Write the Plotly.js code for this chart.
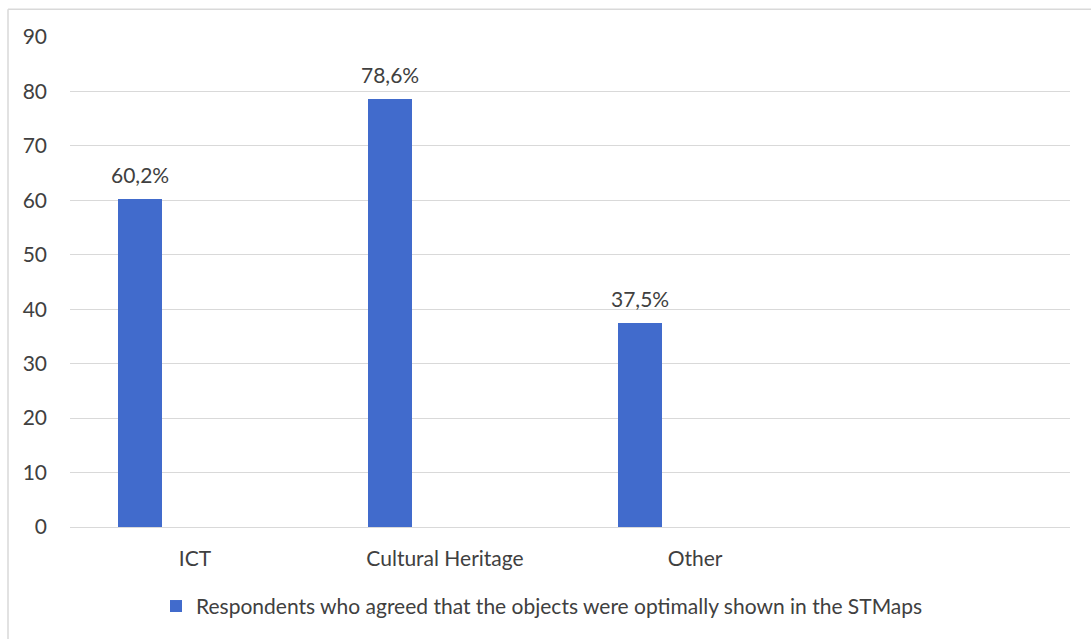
<!DOCTYPE html>
<html>
<head>
<meta charset="utf-8">
<script src="https://cdn.plot.ly/plotly-3.0.1.min.js"></script>
<style>html,body{margin:0;padding:0;background:#fff;}#chart{width:1091px;height:639px;}</style>
</head>
<body>
<div id="chart"></div>
<script>
const categories = ["ICT", "Cultural Heritage", "Other", " "];
const values = [60.2, 78.6, 37.5, null];
const valueLabels = ["60,2%", "78,6%", "37,5%", ""];
const seriesName = "Respondents who agreed that the objects were optimally shown in the STMaps";
const yTicks = [0, 10, 20, 30, 40, 50, 60, 70, 80, 90];

const textColor = "#404040";
const fontFamily = "Lato, 'Open Sans', sans-serif";
const fsize = 21;

const trace = {
  type: "bar",
  x: categories,
  y: values,
  name: seriesName,
  marker: {color: "#416BCC"},
  width: 0.176,
  offset: -0.308,
  showlegend: true,
  hoverinfo: "x+y"
};

const annotations = [];
categories.forEach((c, i) => {
  if (values[i] === null || values[i] === undefined) return;
  annotations.push({
    x: c, y: values[i], xref: "x", yref: "y",
    text: valueLabels[i],
    showarrow: false,
    xanchor: "center", yanchor: "bottom",
    xshift: -0.22 * 250,
    yshift: 10,
    font: {family: fontFamily, size: fsize, color: textColor}
  });
});

const layout = {
  width: 1091,
  height: 639,
  margin: {l: 70, r: 21, t: 37, b: 112, pad: 0},
  paper_bgcolor: "#fff",
  plot_bgcolor: "#fff",
  font: {family: fontFamily, color: textColor, size: fsize},
  xaxis: {
    type: "category",
    categoryorder: "array",
    categoryarray: categories,
    range: [-0.5, 3.5],
    showgrid: false,
    showline: false,
    zeroline: false,
    ticks: "",
    ticklabelstandoff: 17,
    tickfont: {family: fontFamily, size: fsize, color: textColor}
  },
  yaxis: {
    range: [0, 90],
    tickvals: yTicks,
    ticktext: yTicks.map(String),
    showgrid: true,
    gridcolor: "#d9d9d9",
    gridwidth: 1,
    zeroline: true,
    zerolinecolor: "#d9d9d9",
    zerolinewidth: 1,
    showline: false,
    ticks: "",
    ticklabelstandoff: 22,
    tickfont: {family: fontFamily, size: fsize, color: textColor}
  },
  legend: {
    orientation: "h",
    x: 0.086,
    xanchor: "left",
    y: -0.162,
    yanchor: "middle",
    font: {family: fontFamily, size: fsize, color: textColor},
    itemwidth: 30,
    bgcolor: "rgba(0,0,0,0)"
  },
  annotations: annotations,
  shapes: [
    {type: "line", xref: "paper", yref: "paper", x0: -0.062, x1: -0.062, y0: 1.0565, y1: -0.24, line: {color: "#d9d9d9", width: 1.5}},
    {type: "line", xref: "paper", yref: "paper", x0: -0.062, x1: 1.03, y0: 1.0565, y1: 1.0565, line: {color: "#d9d9d9", width: 1.5}}
  ],
  bargap: 0,
  showlegend: true
};

Plotly.newPlot("chart", [trace], layout, {displayModeBar: false, staticPlot: true});
</script>
</body>
</html>
